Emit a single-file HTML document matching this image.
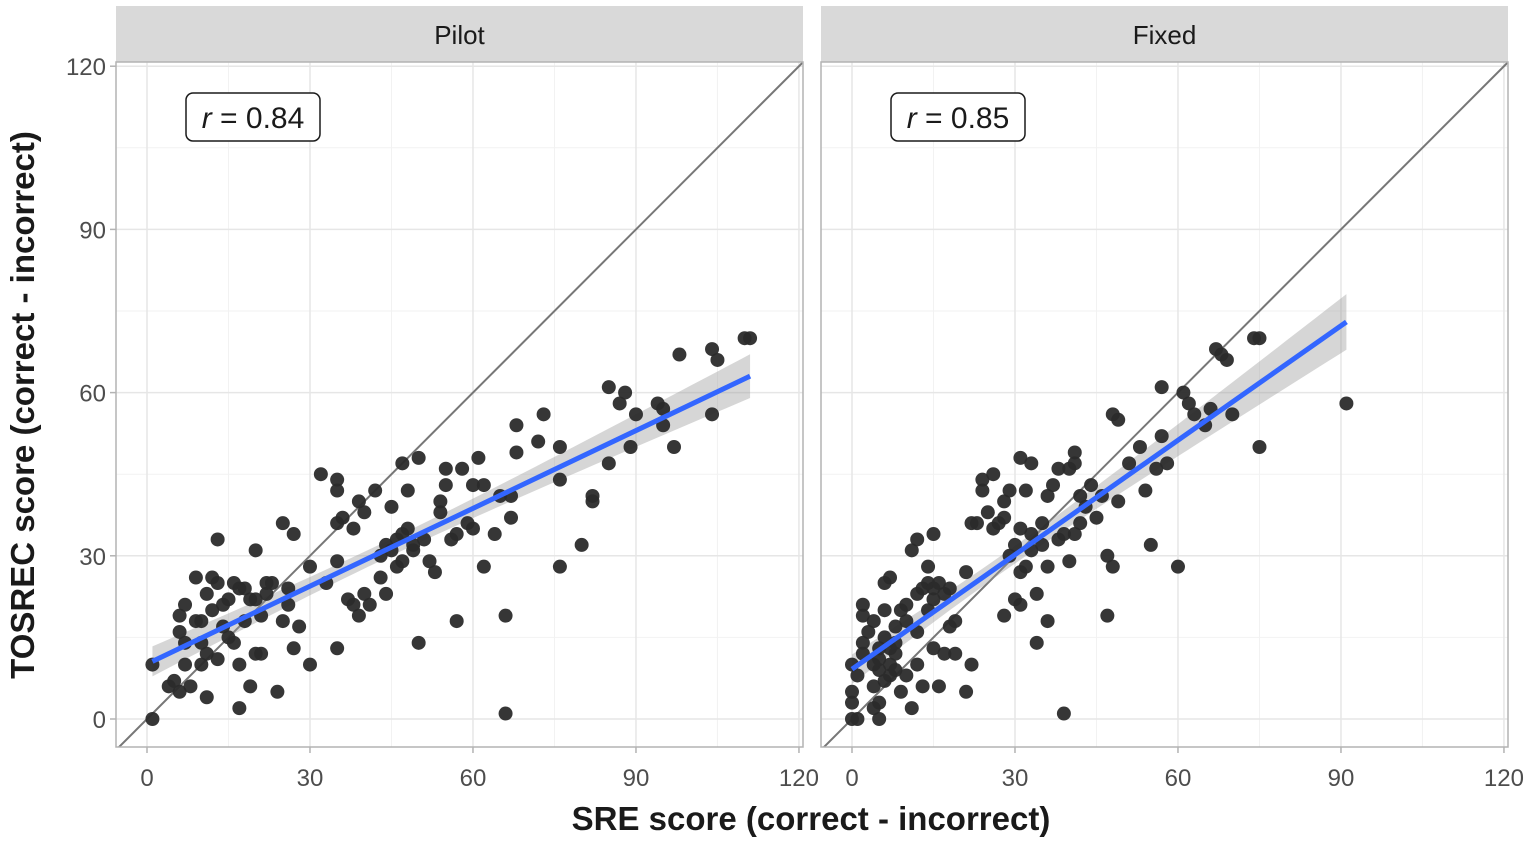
<!DOCTYPE html>
<html><head><meta charset="utf-8"><style>body{margin:0;background:#fff}svg{display:block}text{font-family:"Liberation Sans",sans-serif}</style></head>
<body>
<svg id="chart" width="1535" height="842" xmlns="http://www.w3.org/2000/svg"></svg>
<script>
const panelNames = ["Pilot","Fixed"];
const rLabels = ["0.84","0.85"];
const xTicks = [0,30,60,90,120];
const yTicks = [0,30,60,90,120];
const pilotX = [1,1,4,5,6,6,6,7,7,7,8,9,9,10,10,10,11,11,11,12,12,13,13,13,14,14,15,15,16,16,17,17,17,18,18,19,19,20,20,20,21,21,22,22,23,24,25,25,26,26,27,27,28,30,30,32,33,35,35,35,35,35,36,37,38,38,39,39,40,40,41,42,43,43,44,44,45,45,46,46,47,47,47,48,48,49,49,50,50,51,52,53,54,54,55,55,56,57,57,58,59,60,60,61,62,62,64,65,66,66,67,67,68,68,72,73,76,76,76,80,82,82,85,85,87,88,89,90,94,95,95,97,98,104,104,105,110,111];
const pilotY = [0,10,6,7,5,16,19,21,14,10,6,26,18,18,14,10,4,12,23,26,20,33,25,11,17,21,15,22,25,14,2,10,24,24,18,6,22,31,12,22,12,19,25,23,25,5,36,18,24,21,34,13,17,28,10,45,25,44,42,36,29,13,37,22,21,35,40,19,23,38,21,42,26,30,23,32,39,31,33,28,47,34,29,35,42,32,31,48,14,33,29,27,38,40,46,43,33,18,34,46,36,35,43,48,28,43,34,41,19,1,41,37,49,54,51,56,50,44,28,32,41,40,61,47,58,60,50,56,58,54,57,50,67,68,56,66,70,70];
const fixedX = [0,1,0,0,0,1,2,2,2,2,3,4,4,4,4,5,5,5,5,5,6,6,6,6,7,7,7,7,8,8,8,8,9,9,10,10,10,11,11,12,12,12,12,13,13,14,14,14,15,15,15,15,16,16,17,17,18,18,19,19,21,21,22,22,23,24,24,25,26,26,27,28,28,28,29,29,30,30,31,31,31,31,32,32,33,33,33,34,34,35,35,36,36,36,37,38,38,39,39,40,40,41,41,41,42,42,43,44,45,46,47,47,48,48,49,49,51,53,54,55,56,57,57,58,60,61,62,63,65,66,67,68,69,70,74,75,75,91];
const fixedY = [0,0,3,5,10,8,14,12,19,21,16,6,10,18,2,0,9,11,13,3,7,15,20,25,26,13,10,8,12,17,9,14,5,20,21,8,18,2,31,33,23,16,10,24,6,20,28,25,24,22,34,13,25,6,23,12,17,24,18,12,5,27,36,10,36,42,44,38,45,35,36,40,37,19,42,30,32,22,48,35,27,21,42,28,34,47,31,14,23,32,36,18,41,28,43,46,33,34,1,46,29,49,47,34,36,41,39,43,37,41,19,30,56,28,55,40,47,50,42,32,46,61,52,47,28,60,58,56,54,57,68,67,66,56,70,70,50,58];
const NS="http://www.w3.org/2000/svg";
const svg=document.getElementById('chart');
function mk(tag,attrs,parent){const e=document.createElementNS(NS,tag);for(const k in attrs)e.setAttribute(k,attrs[k]);(parent||svg).appendChild(e);return e;}
const panels=[{left:116,right:803,x0:147},{left:821,right:1508,x0:852}];
const pTop=62,pBottom=747,pxu=5.433,pyu=5.44,y0=719;
const sy=v=>y0-v*pyu;
const datasets=[[pilotX,pilotY],[fixedX,fixedY]];
panels.forEach((p,i)=>{
  const sx=v=>p.x0+v*pxu;
  const g=mk('g',{});
  
  
  const strip=mk('rect',{x:p.left,y:6,width:p.right-p.left,height:56,fill:'#d9d9d9'},g);
  
  
  const st=mk('text',{x:(p.left+p.right)/2,y:44,'text-anchor':'middle','font-size':26,fill:'#1a1a1a'},g);
  st.textContent=panelNames[i];
  
  
  mk('rect',{x:p.left,y:pTop,width:p.right-p.left,height:pBottom-pTop,fill:'#fff'},g);
  for(let v=-15;v<=135;v+=30){const x=sx(v);if(x>p.left&&x<p.right)mk('line',{x1:x,x2:x,y1:pTop,y2:pBottom,stroke:'#f2f2f2','stroke-width':1},g);const y=sy(v);if(y>pTop&&y<pBottom)mk('line',{x1:p.left,x2:p.right,y1:y,y2:y,stroke:'#f2f2f2','stroke-width':1},g);}
  xTicks.forEach(v=>{const x=sx(v);mk('line',{x1:x,x2:x,y1:pTop,y2:pBottom,stroke:'#e6e6e6','stroke-width':1.5},g);
    mk('line',{x1:x,x2:x,y1:pBottom,y2:pBottom+6,stroke:'#b3b3b3','stroke-width':1.5},g);
    const t=mk('text',{x:x,y:786,'text-anchor':'middle','font-size':24,fill:'#4d4d4d'},g);t.textContent=v;
    });
  yTicks.forEach(v=>{const y=sy(v);mk('line',{x1:p.left,x2:p.right,y1:y,y2:y,stroke:'#e6e6e6','stroke-width':1.5},g);
    if(i===0){mk('line',{x1:p.left-6,x2:p.left,y1:y,y2:y,stroke:'#b3b3b3','stroke-width':1.5},g);
    const t=mk('text',{x:p.left-10,y:y+9,'text-anchor':'end','font-size':24,fill:'#4d4d4d'},g);t.textContent=v;
    }});
  const clip=mk('clipPath',{id:'c'+i},g);mk('rect',{x:p.left,y:pTop,width:p.right-p.left,height:pBottom-pTop},clip);
  const cg=mk('g',{'clip-path':'url(#c'+i+')'},g);
  const d=mk('line',{x1:sx(-10),y1:sy(-10),x2:sx(130),y2:sy(130),stroke:'#777','stroke-width':2},cg);
  
  const X=datasets[i][0],Y=datasets[i][1],n=X.length;
  const mx=X.reduce((a,b)=>a+b)/n,my=Y.reduce((a,b)=>a+b)/n;
  let sxx=0,sxy=0;for(let k=0;k<n;k++){sxx+=(X[k]-mx)**2;sxy+=(X[k]-mx)*(Y[k]-my);}
  const b=sxy/sxx,a=my-b*mx;let rss=0;for(let k=0;k<n;k++)rss+=(Y[k]-a-b*X[k])**2;
  const s=Math.sqrt(rss/(n-2));const xmin=Math.min(...X),xmax=Math.max(...X);
  const se=x=>1.98*s*Math.sqrt(1/n+(x-mx)**2/sxx);
  let up=[],lo=[];for(let k=0;k<=50;k++){const x=xmin+(xmax-xmin)*k/50,f=a+b*x;up.push(sx(x)+','+sy(f+se(x)));lo.unshift(sx(x)+','+sy(f-se(x)));}
  const band=mk('polygon',{points:up.concat(lo).join(' '),fill:'#999','fill-opacity':0.4},cg);
  
  for(let k=0;k<n;k++){const c=mk('circle',{cx:sx(X[k]),cy:sy(Y[k]),r:7,fill:'#2b2b2b','fill-opacity':0.95},cg);
    }
  const rl=mk('line',{x1:sx(xmin),y1:sy(a+b*xmin),x2:sx(xmax),y2:sy(a+b*xmax),stroke:'#3366ff','stroke-width':5},cg);
  
  mk('rect',{x:p.left,y:pTop,width:p.right-p.left,height:pBottom-pTop,fill:'none',stroke:'#b3b3b3','stroke-width':1.5},g);
  const bx=mk('rect',{x:p.left+70,y:93,width:134,height:48,rx:7,fill:'#fff',stroke:'#1a1a1a','stroke-width':1.5},g);
  
  const rt=mk('text',{x:p.left+137,y:128,'text-anchor':'middle','font-size':30,fill:'#1a1a1a'},g);
  const ts1=mk('tspan',{'font-style':'italic'},rt);ts1.textContent='r';
  const ts2=mk('tspan',{},rt);ts2.textContent=' = '+rLabels[i];
});
const xt=mk('text',{x:811,y:830,'text-anchor':'middle','font-size':33,fill:'#1a1a1a','font-weight':'bold'});
xt.textContent='SRE score (correct - incorrect)';

const yt=mk('text',{x:0,y:0,'text-anchor':'middle','font-size':33,fill:'#1a1a1a','font-weight':'bold',transform:'translate(34,405) rotate(-90)'});
yt.textContent='TOSREC score (correct - incorrect)';

</script>
</body></html>
